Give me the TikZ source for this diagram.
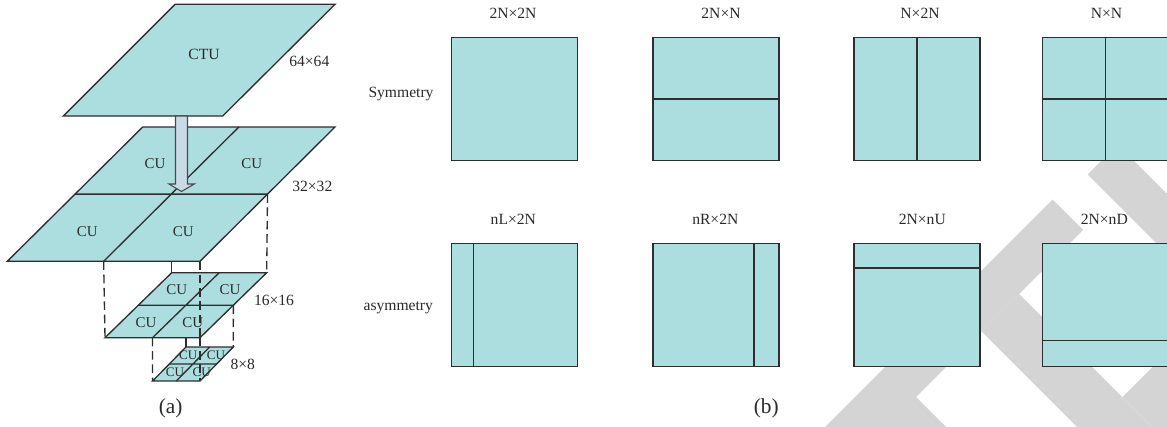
\documentclass[tikz,border=0pt]{standalone}
\usepackage{fontspec}
\setmainfont{Liberation Serif}
\usetikzlibrary{calc}
\definecolor{cufill}{HTML}{ADDEDF}
\definecolor{edge}{HTML}{2E2E2E}
\definecolor{ink}{HTML}{2A2A2A}
\definecolor{arrowfill}{HTML}{C8DAE6}
\definecolor{arrowedge}{HTML}{4A4A4A}
\definecolor{ribbon}{HTML}{D4D4D4}
\begin{document}
\begin{tikzpicture}[x=0.75pt,y=-0.75pt,
  layer/.style={fill=cufill,draw=edge,line width=1pt,line join=miter},
  split/.style={draw=edge,line width=1pt},
  guide/.style={draw=edge,line width=1pt,dash pattern=on 6.5pt off 3.5pt},
  pbox/.style={rectangle,fill=cufill,draw=edge,line width=1pt,
    minimum width=94.5pt,minimum height=92.25pt,inner sep=0pt,anchor=north west},
  lbl/.style={text=ink,font=\fontsize{11.7}{14}\selectfont,inner sep=0pt},
  cu/.style={text=ink,font=\fontsize{11.2}{13}\selectfont,inner sep=0pt},
  cus/.style={text=ink,font=\fontsize{9.8}{12}\selectfont,inner sep=0pt},
  capt/.style={text=ink,font=\fontsize{16}{19}\selectfont,inner sep=0pt}]
\useasboundingbox (0,0) rectangle (1167,426);

% background ribbons
\fill[ribbon] (812,440) -- (1052.5,199.5) -- (1083,230) -- (916,397) -- (959,440) -- cycle;
\fill[ribbon] (981.5,331.5) -- (1019,294) -- (1195,470) -- (1120,470) -- cycle;
\fill[ribbon] (1122.3,397.3) -- (1300,219.7) -- (1400,300) -- (1250,525) -- cycle;
\fill[ribbon] (1087.5,174.5) -- (1117.5,144.5) -- (1300,327) -- (1240,327) -- cycle;

% ---------------- (a) quadtree layers ----------------
% CTU 64x64
\coordinate (T64bl) at (63.3,116);  \coordinate (T64br) at (222.7,116);
\coordinate (T64tr) at (335,4.3);   \coordinate (T64tl) at (175,4.3);
% 32x32
\coordinate (L32bl) at (7.3,261.3); \coordinate (L32br) at (200,261.3);
\coordinate (L32tr) at (335,127);   \coordinate (L32tl) at (142.7,127);
% 16x16
\coordinate (L16bl) at (105,337.7); \coordinate (L16br) at (200,337.7);
\coordinate (L16tr) at (266.7,272.7); \coordinate (L16tl) at (171.7,272.7);
% 8x8
\coordinate (L8bl) at (152.6,381);  \coordinate (L8br) at (200,381);
\coordinate (L8tr) at (233.3,347);  \coordinate (L8tl) at (186,347);

% midpoints of the layer edges
\foreach \l in {L32,L16,L8}{
  \coordinate (\l lm) at ($(\l bl)!0.5!(\l tl)$);
  \coordinate (\l rm) at ($(\l br)!0.5!(\l tr)$);
  \coordinate (\l bm) at ($(\l bl)!0.5!(\l br)$);
  \coordinate (\l tm) at ($(\l tl)!0.5!(\l tr)$);
}

% 8x8 layer
\draw[layer] (L8bl) -- (L8br) -- (L8tr) -- (L8tl) -- cycle;
\draw[split] (L8lm) -- (L8rm) (L8tm) -- (L8bm);
% guides 16x16 -> 8x8
\draw[guide] (L16bm) -- (L8bl);
\draw[guide] (L16br) -- (L8br);
\draw[guide] (L16rm) -- (L8tr);
\draw[split] (L8tl |- L16bl) -- (L8tl);

% 16x16 layer
\draw[layer] (L16bl) -- (L16br) -- (L16tr) -- (L16tl) -- cycle;
\draw[split] (L16lm) -- (L16rm) (L16tm) -- (L16bm);
% guides 32x32 -> 16x16
\draw[guide] (L32bm) -- (L16bl);
\draw[guide] (L32br) -- (L16br);
\draw[guide] (L32rm) -- (L16tr);
\draw[split] (L16tl |- L32bl) -- (L16tl);

% 32x32 layer
\draw[layer] (L32bl) -- (L32br) -- (L32tr) -- (L32tl) -- cycle;
\draw[split] (L32lm) -- (L32rm) (L32tm) -- (L32bm);

% CTU layer
\draw[layer] (T64bl) -- (T64br) -- (T64tr) -- (T64tl) -- cycle;

% split arrow from the CTU down to the 32x32 layer
\coordinate (arrTop) at (181.5,116);
\coordinate (arrTip) at (181.5,191.5);
\draw[fill=arrowfill,draw=arrowedge,line width=0.8pt,line join=miter]
  ($(arrTop)+(-6,0)$) -- ($(arrTop)+(6,0)$) -- ($(arrTip)+(6,-7.5)$)
  -- ($(arrTip)+(12.8,-7.5)$) -- (arrTip) -- ($(arrTip)+(-12.5,-7.5)$)
  -- ($(arrTip)+(-6,-7.5)$) -- cycle;

% layer labels
\node[lbl] (ctu) at (204,54) {CTU};
\node[lbl] (s64) at (309.3,61.7) {64×64};
\node[cu] (c32a) at (155,163.3) {CU};
\node[cu] (c32b) at (251.7,163.3) {CU};
\node[cu] (c32c) at (87.3,231.7) {CU};
\node[cu] (c32d) at (183.3,231.7) {CU};
\node[lbl] (s32) at (312.3,186) {32×32};
\node[cu] (c16a) at (176.7,290) {CU};
\node[cu] (c16b) at (230,290) {CU};
\node[cu] (c16c) at (146,322.3) {CU};
\node[cu] (c16d) at (192.7,322.3) {CU};
\node[lbl] (s16) at (274,300.7) {16×16};
\node[cus] (c8a) at (188.3,355.3) {CU};
\node[cus] (c8b) at (216,355.3) {CU};
\node[cus] (c8c) at (175,372.3) {CU};
\node[cus] (c8d) at (201.7,372.3) {CU};
\node[lbl] (s8) at (242.7,364) {8×8};
\node[capt] (capa) at (170.7,408.3) {(a)};

% ---------------- (b) partition modes ----------------
\node[pbox] (p1) at (451,36.7) {};
\node[pbox] (p2) at (652.3,36.7) {};
\node[pbox] (p3) at (853.3,36.7) {};
\node[pbox] (p4) at (1041.7,36.7) {};
\draw[split] (p2.west) -- (p2.east);
\draw[split] (p3.north) -- (p3.south);
\draw[split] (p4.west) -- (p4.east) (p4.north) -- (p4.south);

\node[pbox] (q1) at (451,243) {};
\node[pbox] (q2) at (652.3,243) {};
\node[pbox] (q3) at (853.3,243) {};
\node[pbox] (q4) at (1041.7,243) {};
\draw[split] ($(q1.north west)+(22.7,0)$) -- ($(q1.south west)+(22.7,0)$);
\draw[split] ($(q2.north east)+(-25.6,0)$) -- ($(q2.south east)+(-25.6,0)$);
\draw[split] ($(q3.north west)+(0,25)$) -- ($(q3.north east)+(0,25)$);
\draw[split] ($(q4.south west)+(0,-26.7)$) -- ($(q4.south east)+(0,-26.7)$);

\node[lbl] (t1) at (513,13.3) {2N×2N};
\node[lbl] (t2) at (721,13.3) {2N×N};
\node[lbl] (t3) at (920,13.3) {N×2N};
\node[lbl] (t4) at (1106.5,13.3) {N×N};
\node[lbl] (u1) at (513.3,219.3) {nL×2N};
\node[lbl] (u2) at (715.3,219.3) {nR×2N};
\node[lbl] (u3) at (922.3,219.3) {2N×nU};
\node[lbl] (u4) at (1104.3,219.3) {2N×nD};
\node[lbl] (sym) at (401,94.3) {Symmetry};
\node[lbl] (asym) at (398.3,307.3) {asymmetry};
\node[capt] (capb) at (766.3,408.3) {(b)};
\end{tikzpicture}
\end{document}
